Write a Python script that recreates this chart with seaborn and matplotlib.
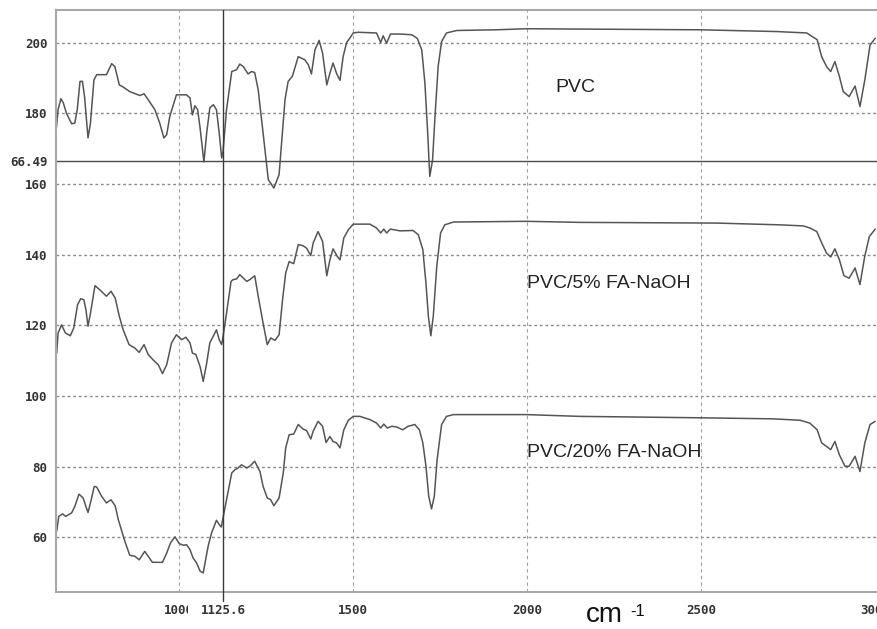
import numpy as np
import pandas as pd
import seaborn as sns
import matplotlib.pyplot as plt

# wavenumbers (cm-1) and transmittance
pvc_x = [646, 652, 660, 667, 676, 691, 700, 707, 715, 722, 728, 738, 745, 755, 763, 791,
         806, 815, 828, 839, 858, 887, 899, 911, 930, 944, 956, 964, 973, 992, 1021, 1031,
         1038, 1045, 1053, 1060, 1071, 1079, 1088, 1098, 1107, 1115, 1122, 1126, 1136, 1151,
         1165, 1174, 1184, 1198, 1208, 1217, 1227, 1241, 1256, 1272, 1287, 1304, 1313, 1325,
         1342, 1361, 1371, 1380, 1390, 1402, 1412, 1424, 1433, 1442, 1452, 1462, 1471, 1481,
         1490, 1500, 1514, 1567, 1579, 1586, 1596, 1607, 1634, 1668, 1684, 1697, 1706, 1714,
         1720, 1728, 1735, 1744, 1754, 1768, 1797, 1912, 1998, 2151, 2496, 2717, 2803, 2833,
         2846, 2860, 2872, 2884, 2897, 2908, 2925, 2942, 2956, 2970, 2985, 3000]
pvc_y = [174.8, 181.0, 184.1, 182.9, 180.0, 177.0, 177.2, 181.0, 189.0, 189.0, 184.7, 173.0,
         177.2, 189.4, 190.9, 190.9, 194.0, 193.2, 188.0, 187.4, 186.1, 185.0, 185.5, 183.8,
         181.0, 177.2, 173.0, 173.9, 179.1, 185.2, 185.2, 184.3, 179.5, 182.1, 181.0, 175.8,
         166.2, 174.4, 181.5, 182.4, 181.0, 174.4, 167.3, 169.2, 181.0, 191.8, 192.3, 193.9,
         193.2, 191.1, 191.8, 191.5, 186.6, 174.4, 161.2, 158.8, 162.6, 183.8, 189.0, 190.4,
         196.0, 195.1, 193.7, 191.1, 197.9, 200.6, 197.0, 188.0, 191.3, 194.2, 191.3, 189.3,
         196.0, 200.0, 201.2, 202.7, 202.9, 202.7, 200.0, 201.9, 199.8, 202.4, 202.4, 202.2,
         201.2, 197.9, 188.5, 174.4, 162.1, 166.8, 179.1, 193.2, 200.3, 202.7, 203.4, 203.6,
         203.9, 203.8, 203.6, 203.1, 202.7, 200.8, 196.0, 193.2, 191.8, 194.6, 190.4, 186.1,
         184.7, 187.7, 181.9, 189.4, 199.3, 201.2]

fa5_x = [648, 652, 662, 673, 687, 697, 708, 717, 726, 732, 738, 745, 758, 772, 791, 804,
         816, 828, 839, 856, 873, 885, 899, 911, 925, 940, 952, 964, 978, 992, 1007, 1019,
         1031, 1038, 1048, 1060, 1069, 1079, 1088, 1100, 1107, 1115, 1122, 1126, 1136, 1149,
         1155, 1165, 1174, 1194, 1203, 1217, 1227, 1241, 1253, 1263, 1275, 1287, 1297, 1306,
         1316, 1329, 1342, 1356, 1366, 1378, 1385, 1399, 1412, 1424, 1433, 1442, 1454, 1462,
         1473, 1486, 1500, 1548, 1567, 1579, 1588, 1596, 1607, 1634, 1672, 1687, 1700, 1709,
         1716, 1723, 1730, 1740, 1751, 1763, 1788, 1998, 2151, 2544, 2727, 2793, 2812, 2832,
         2846, 2860, 2872, 2884, 2897, 2910, 2925, 2942, 2956, 2970, 2983, 3000]
fa5_y = [112.1, 117.8, 120.1, 117.8, 117.0, 119.2, 125.8, 127.5, 127.2, 124.4, 119.7, 123.4,
         131.2, 130.0, 128.2, 129.6, 127.7, 122.5, 118.7, 114.5, 113.5, 112.3, 114.5, 111.7,
         110.2, 108.8, 106.3, 108.8, 115.0, 117.3, 115.9, 116.6, 115.0, 112.1, 111.7, 108.3,
         104.1, 109.3, 115.0, 117.3, 118.7, 115.9, 114.5, 116.8, 123.4, 132.4, 132.9, 133.1,
         134.3, 132.4, 132.9, 134.0, 128.2, 120.6, 114.5, 116.4, 115.7, 117.3, 127.2, 134.8,
         138.0, 137.4, 142.8, 142.5, 141.8, 139.7, 143.3, 146.5, 143.7, 134.0, 138.5, 141.6,
         139.5, 138.5, 144.7, 147.0, 148.6, 148.6, 147.5, 146.1, 147.2, 146.1, 147.2, 146.7,
         146.8, 145.6, 141.4, 131.9, 122.5, 117.0, 122.5, 136.6, 146.1, 148.4, 149.2, 149.4,
         149.1, 148.9, 148.4, 148.1, 147.5, 146.5, 143.3, 140.4, 139.3, 141.6, 138.5, 134.0,
         133.3, 136.2, 131.5, 139.6, 145.1, 147.2]

fa20_x = [648, 654, 665, 674, 691, 700, 712, 724, 732, 738, 745, 756, 763, 777, 791, 804,
          816, 825, 844, 858, 873, 885, 901, 911, 923, 952, 964, 975, 988, 1000, 1013, 1021,
          1031, 1040, 1050, 1060, 1069, 1083, 1093, 1107, 1115, 1121, 1126, 1136, 1151, 1160,
          1169, 1179, 1194, 1203, 1217, 1232, 1241, 1253, 1263, 1272, 1287, 1299, 1306, 1316,
          1329, 1342, 1356, 1366, 1378, 1385, 1399, 1412, 1422, 1433, 1442, 1452, 1462, 1473,
          1486, 1500, 1519, 1548, 1567, 1579, 1588, 1598, 1611, 1625, 1642, 1658, 1677, 1690,
          1700, 1709, 1717, 1725, 1733, 1741, 1754, 1768, 1788, 1998, 2151, 2496, 2707, 2784,
          2812, 2833, 2846, 2860, 2872, 2884, 2897, 2913, 2925, 2942, 2956, 2970, 2985, 3000]
fa20_y = [61.7, 65.9, 66.6, 65.9, 66.9, 68.7, 72.2, 71.1, 68.7, 67.0, 69.7, 74.4, 74.2, 71.6,
          69.7, 70.6, 68.9, 65.0, 58.8, 54.9, 54.6, 53.6, 56.0, 54.6, 52.9, 52.9, 55.5, 58.4,
          60.1, 58.2, 57.7, 57.9, 56.5, 54.1, 52.7, 50.4, 49.9, 57.4, 61.2, 64.8, 63.6, 62.9,
          65.5, 70.6, 78.2, 79.1, 79.6, 80.5, 79.6, 80.1, 81.5, 78.6, 74.4, 71.1, 70.6, 68.9,
          71.1, 78.2, 85.3, 89.0, 89.2, 91.9, 90.6, 90.2, 87.8, 90.0, 92.8, 91.4, 86.8, 88.5,
          87.1, 86.7, 85.3, 90.4, 93.1, 94.2, 94.2, 93.3, 92.3, 90.9, 92.0, 90.9, 91.4, 91.2,
          90.4, 91.4, 91.9, 90.4, 86.7, 80.1, 71.6, 68.0, 71.6, 81.9, 91.9, 94.2, 94.7, 94.7,
          94.2, 93.8, 93.5, 93.1, 92.3, 90.4, 86.7, 85.7, 84.8, 87.1, 83.3, 80.1, 80.1, 82.9,
          78.6, 86.7, 91.9, 92.8]

labels = ["PVC", "PVC/5% FA-NaOH", "PVC/20% FA-NaOH"]
label_pos = [(2082, 187.4), (1999, 131.9), (1999, 84.1)]
y_ticks = [60, 80, 100, 120, 140, 160, 180, 200]
cursor_x = 1125.6
cursor_y = 166.49

sns.set_style("white")
fig = plt.figure(figsize=(8.77, 6.29), dpi=100)
ax = fig.add_axes([56 / 877, 37 / 629, 1 - 56 / 877, 582 / 629])

line_color = "#555555"
for xs, ys in [(pvc_x, pvc_y), (fa5_x, fa5_y), (fa20_x, fa20_y)]:
    df = pd.DataFrame({"wavenumber": xs, "T": ys})
    sns.lineplot(data=df, x="wavenumber", y="T", ax=ax, color=line_color,
                 linewidth=1.1, sort=False, estimator=None)

ax.set_xlim(646, 3005)
ax.set_ylim(44.5, 209.2)

# grid
for yv in y_ticks:
    ax.axhline(yv, color="#8a8a8a", linestyle=(0, (2, 2)), linewidth=1.0, zorder=0)
for xv in [1000, 1500, 2000, 2500]:
    ax.axvline(xv, color="#a0a0a0", linestyle=(0, (3, 3)), linewidth=0.8, zorder=0)

# cursor lines (vertical one pokes a little below the frame)
ax.axvline(cursor_x, ymin=-0.016, color="#3a3a3a", linewidth=1.0, clip_on=False,
           zorder=6)
ax.axhline(cursor_y, color="#4a4a4a", linewidth=1.0)

# ticks
tick_font = dict(family="DejaVu Sans Mono", weight="bold", size=9)
ax.set_yticks(y_ticks + [cursor_y])
ax.set_yticklabels([str(v) for v in y_ticks] + ["66.49"], **tick_font, color="#333333")
ax.set_xticks([1000, cursor_x, 1500, 2000, 2500, 3000])
ax.set_xticklabels(["1000", "1125.6", "1500", "2000", "2500", "3000"], **tick_font,
                   color="#333333")
ax.get_xticklabels()[1].set_bbox(dict(facecolor="white", edgecolor="none",
                                      boxstyle="square,pad=1.0"))
ax.tick_params(axis="both", length=0)
ax.tick_params(axis="y", pad=6)
ax.tick_params(axis="x", pad=9)
ax.set_xlabel("")
ax.set_ylabel("")

for side in ["left", "top", "bottom"]:
    ax.spines[side].set_color("#a8a8a8")
    ax.spines[side].set_linewidth(1.5)
    ax.spines[side].set_zorder(5)
ax.spines["right"].set_visible(False)

for text, (tx, ty) in zip(labels, label_pos):
    ax.text(tx, ty, text, family="Liberation Sans", fontsize=14, color="#222222",
            ha="left", va="center")

fig.text(586 / 877, 1 - 622 / 629, "cm", family="Liberation Sans", fontsize=20,
         color="#111111", ha="left", va="baseline")
fig.text(630 / 877, 1 - 616 / 629, "-1", family="Liberation Sans", fontsize=12,
         color="#111111", ha="left", va="baseline")

fig.savefig("out.png", dpi=100)
